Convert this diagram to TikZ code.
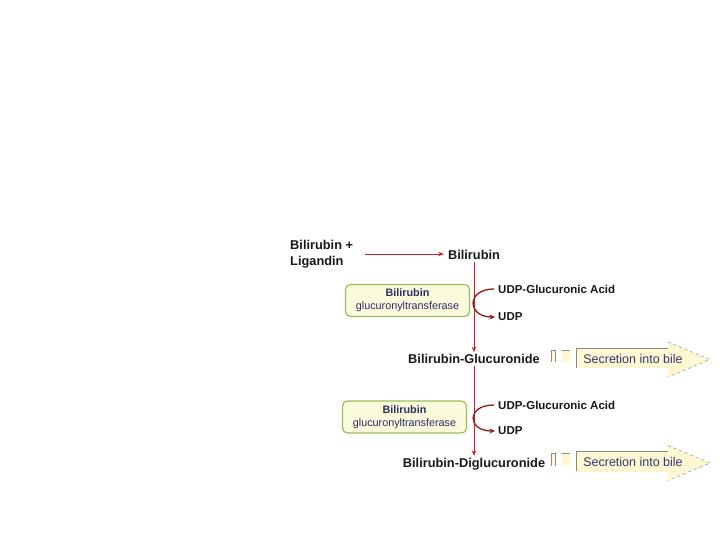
\documentclass[tikz,border=0pt]{standalone}
\usepackage{fontspec}
\setmainfont{Liberation Sans}
\usetikzlibrary{arrows.meta}
\definecolor{redline}{HTML}{C8202A}
\definecolor{darkred}{HTML}{8E1B1B}
\definecolor{enzfill}{HTML}{FBFBDC}
\definecolor{enzborder}{HTML}{9CBB5C}
\definecolor{enztext}{HTML}{2C2C66}
\definecolor{secfill}{HTML}{FFF6D2}
\definecolor{sectext}{HTML}{2F3A70}
\definecolor{secline}{HTML}{8A8A8A}
\begin{document}
\begin{tikzpicture}[x=1pt,y=-1pt,
  lbl/.style={font=\fontsize{12.8}{15.5}\selectfont\bfseries, text=black!90, inner sep=2pt},
  udp/.style={font=\fontsize{11.5}{13}\selectfont\bfseries, text=black!90, anchor=west, inner sep=0pt},
  enzyme/.style={draw=enzborder, line width=1.2pt, fill=enzfill, rounded corners=5pt, minimum width=124pt, minimum height=32pt, align=center, text=enztext, font=\fontsize{10.8}{13}\selectfont, inner sep=0pt},
  redarrow/.style={draw=redline, line width=0.9pt, -{Stealth[length=5.5pt,width=4.5pt]}},
  curvearrow/.style={draw=darkred, line width=1.3pt, -{Stealth[length=5.5pt,width=5pt]}},
  secarrow/.pic={
    \fill[secfill] (0,-9.5) rectangle (4.5,2.5);
    \draw[secline, line width=0.6pt] (0,2.5) -- (0,-9.5) -- (4.5,-9.5) -- (4.5,2.5);
    \fill[secfill] (10.5,-9.5) rectangle (19,2.5);
    \draw[secline, line width=0.6pt] (10.5,-9.5) -- (19,-9.5);
    \fill[secfill] (25,-11.5) rectangle (118,8.5);
    \draw[secline, line width=0.6pt] (25,8) -- (25,-11.5) -- (117,-11.5);
    \fill[secfill] (117,-17.5) -- (159,0) -- (117,17.5) -- cycle;
    \draw[secline, dashed, line width=0.5pt] (117,-17.5) -- (159,0) -- (117,17.5);
    \node[font=\fontsize{12.5}{14}\selectfont, text=sectext, inner sep=0pt] (-t) at (82,-0.5) {Secretion into bile};
  }
]
\useasboundingbox[fill=white] (0,0) rectangle (720,540);

% main labels
\node[lbl, align=left, anchor=west, inner sep=0pt] (bl) at (290,254) {Bilirubin +\\Ligandin};
\node[lbl] (b1) at (474,255) {Bilirubin};
\node[lbl] (g1) at (474,359) {Bilirubin-Glucuronide};
\node[lbl] (g2) at (474,464) {Bilirubin-Diglucuronide};

% ligandin arrow
\coordinate (a0) at (365,254);
\draw[redarrow, shorten >=2pt] (a0) -- (b1.west |- a0);

% vertical arrows
\draw[redarrow] (b1.south) -- (b1.south |- g1.north);
\draw[redarrow] (g1.south) -- (g1.south |- g2.north);

% enzymes
\node[enzyme] (e1) at (407.5,300.5) {\textbf{Bilirubin}\\glucuronyltransferase};
\node[enzyme] (e2) at (404.5,417) {\textbf{Bilirubin}\\glucuronyltransferase};

% UDP side reactions
\node[udp] (ua1) at (498,289) {UDP-Glucuronic Acid};
\node[udp] (u1) at (498,317) {UDP};
\draw[curvearrow] ([xshift=-4pt]ua1.west) .. controls +(-28,0) and +(-28,0) .. ([xshift=-3pt]u1.west);

\node[udp] (ua2) at (498,405) {UDP-Glucuronic Acid};
\node[udp] (u2) at (498,431) {UDP};
\draw[curvearrow] ([xshift=-4pt]ua2.west) .. controls +(-28,0) and +(-28,0) .. ([xshift=-3pt]u2.west);

% secretion arrows
\pic (s1) at (551,359.5) {secarrow};
\pic (s2) at (551,463) {secarrow};
\end{tikzpicture}
\end{document}
